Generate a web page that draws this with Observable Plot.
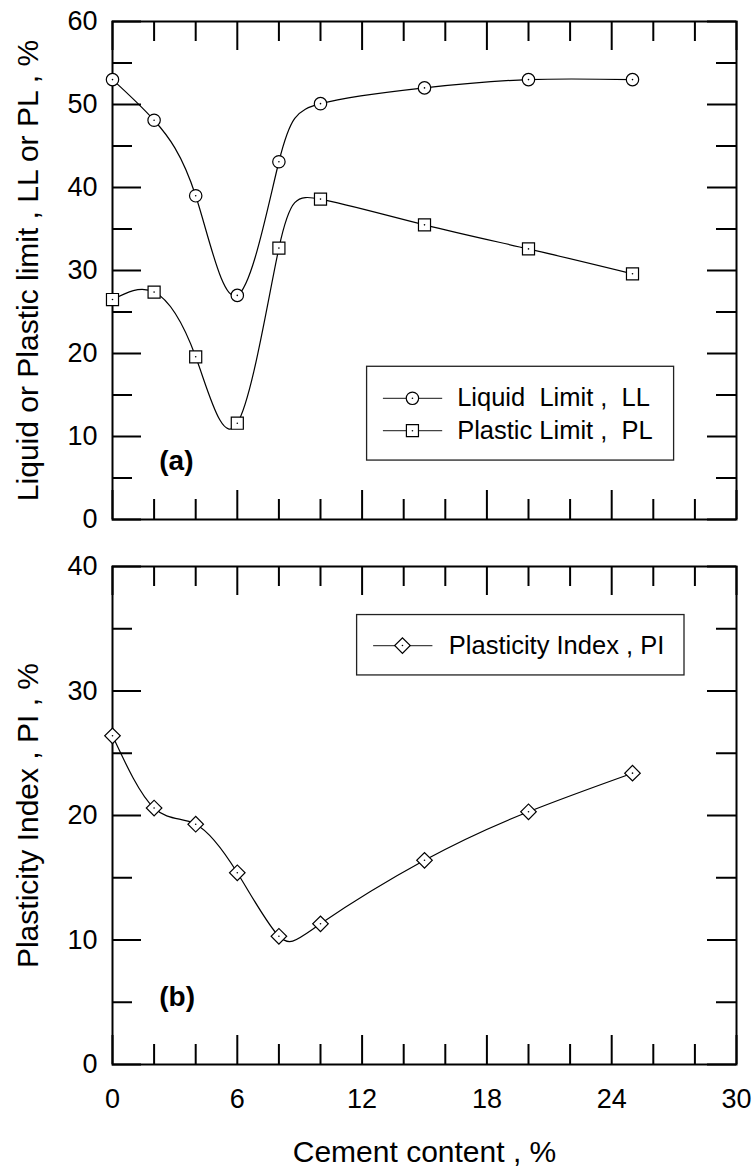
<!DOCTYPE html>
<html><head><meta charset="utf-8">
<script src="https://cdn.jsdelivr.net/npm/d3@7"></script>
<script src="https://cdn.jsdelivr.net/npm/@observablehq/plot@0.6"></script>
<style>
body{margin:0;background:#fff}
#chart svg{display:block}
</style>
</head><body><div id="chart"></div>
<script>
// ---- data ----
const cement = [0, 2, 4, 6, 8, 10, 15, 20, 25];
const liquidLimit = [53.0, 48.1, 39.0, 27.0, 43.1, 50.1, 52.0, 53.0, 53.0];
const plasticLimit = [26.5, 27.4, 19.6, 11.6, 32.7, 38.6, 35.5, 32.6, 29.6];
const plasticityIndex = [26.4, 20.6, 19.3, 15.4, 10.3, 11.3, 16.4, 20.3, 23.4];
const xTickLabels = [0, 6, 12, 18, 24, 30];
const yTickLabelsTop = [0, 10, 20, 30, 40, 50, 60];
const yTickLabelsBottom = [0, 10, 20, 30, 40];
const seriesNames = ["Liquid\u00a0 Limit ,\u00a0 LL", "Plastic Limit ,\u00a0 PL", "Plasticity Index , PI"];
const yTitles = ["Liquid or Plastic limit , LL or PL , %", "Plasticity Index , PI , %"];
const xTitle = "Cement content , %";
const panelTags = ["(a)", "(b)"];

// ---- layout ----
const W = 755, mL = 112, mR = 19;
const frameW = W - mL - mR, frameH = 498;
const font = "'Liberation Sans', Arial, Helvetica, sans-serif";
const tickFont = 27, titleFont = 30, legendFont = 25.5, tagFont = 28;

const ll = cement.map((x, i) => ({x, y: liquidLimit[i]}));
const pl = cement.map((x, i) => ({x, y: plasticLimit[i]}));
const pi = cement.map((x, i) => ({x, y: plasticityIndex[i]}));

function tickMarks(xStep, xMajor, yStep, yMajor, yMax) {
  const xs = d3.range(0, 30 + 1e-9, xStep);
  const ys = d3.range(0, yMax + 1e-9, yStep);
  const isMajX = v => Math.abs(v % xMajor) < 1e-9;
  const isMajY = v => Math.abs(v % yMajor) < 1e-9;
  const len = v => v ? 29 : 20;
  const o = {stroke: "black", strokeWidth: 2};
  const marks = [];
  for (const maj of [false, true]) {
    const xv = xs.filter(v => isMajX(v) === maj);
    const yv = ys.filter(v => isMajY(v) === maj);
    marks.push(
      Plot.ruleX(xv, {...o, insetTop: frameH - len(maj)}),
      Plot.ruleX(xv, {...o, insetBottom: frameH - len(maj)}),
      Plot.ruleY(yv, {...o, insetRight: frameW - len(maj)}),
      Plot.ruleY(yv, {...o, insetLeft: frameW - len(maj)})
    );
  }
  return marks;
}

function lineMark(data) {
  return Plot.line(data, {x: "x", y: "y", curve: "natural", stroke: "black", strokeWidth: 1.2});
}
function dotMarks(data, symbol, r, rotate) {
  return [
    Plot.dot(data, {x: "x", y: "y", symbol, r, rotate, fill: "white", stroke: "black", strokeWidth: 1.2}),
    Plot.dot(data, {x: "x", y: "y", r: 0.8, fill: "black"})
  ];
}

function legendMarks(box, rows) {
  const marks = [
    Plot.rect([box], {x1: "x1", x2: "x2", y1: "y1", y2: "y2", fill: "white", stroke: "#222", strokeWidth: 1.3})
  ];
  for (const row of rows) {
    marks.push(
      Plot.link([row], {x1: "lx1", x2: "lx2", y1: "y", y2: "y", stroke: "#444", strokeWidth: 1.2}),
      Plot.dot([row], {x: "mx", y: "y", symbol: row.symbol, r: row.r, rotate: row.rotate, fill: "white", stroke: "black", strokeWidth: 1.2}),
      Plot.dot([row], {x: "mx", y: "y", r: 0.8, fill: "black"}),
      Plot.text([row], {x: "tx", y: "y", text: "label", textAnchor: "start", fontSize: legendFont, fill: "black"})
    );
  }
  return marks;
}

function yTitle(text) {
  return Plot.text([text], {frameAnchor: "left", textAnchor: "middle", lineAnchor: "middle", dx: -84, rotate: -90, fontSize: titleFont, fill: "black"});
}

// top panel
const topPlot = Plot.plot({
  width: W, height: 540,
  marginLeft: mL, marginRight: mR, marginTop: 21, marginBottom: 21,
  style: {fontFamily: font, background: "white", color: "black"},
  x: {domain: [0, 30], axis: null},
  y: {domain: [0, 60], axis: null},
  marks: [
    lineMark(ll),
    lineMark(pl),
    Plot.frame({stroke: "black", strokeWidth: 2}),
    ...tickMarks(2, 6, 5, 10, 60),
    Plot.axisY(yTickLabelsTop, {tickSize: 0, tickPadding: 15, fontSize: tickFont, anchor: "left"}),
    yTitle(yTitles[0]),
    Plot.text([panelTags[0]], {x: [2.25], y: [7], textAnchor: "start", fontSize: tagFont, fontWeight: "bold", fill: "black"}),
    ...legendMarks({x1: 12.24, x2: 27.0, y1: 18.4, y2: 7.1}, [
      {lx1: 13.0, lx2: 15.85, mx: 14.42, tx: 16.57, y: 14.6, label: seriesNames[0], symbol: "circle", r: 6.2, rotate: 0},
      {lx1: 13.0, lx2: 15.85, mx: 14.42, tx: 16.57, y: 10.7, label: seriesNames[1], symbol: "square", r: 6.8, rotate: 0}
    ]),
    ...dotMarks(ll, "circle", 6.2, 0),
    ...dotMarks(pl, "square", 6.8, 0)
  ]
});

// bottom panel
const bottomPlot = Plot.plot({
  width: W, height: 629,
  marginLeft: mL, marginRight: mR, marginTop: 26, marginBottom: 105,
  style: {fontFamily: font, background: "white", color: "black"},
  x: {domain: [0, 30], axis: null},
  y: {domain: [0, 40], axis: null},
  marks: [
    lineMark(pi),
    Plot.frame({stroke: "black", strokeWidth: 2}),
    ...tickMarks(2, 6, 5, 10, 40),
    Plot.axisY(yTickLabelsBottom, {tickSize: 0, tickPadding: 15, fontSize: tickFont, anchor: "left"}),
    Plot.axisX(xTickLabels, {tickSize: 0, tickPadding: 24, fontSize: tickFont, anchor: "bottom"}),
    yTitle(yTitles[1]),
    Plot.text([xTitle], {frameAnchor: "bottom", textAnchor: "middle", lineAnchor: "middle", dy: 88, fontSize: titleFont, fill: "black"}),
    Plot.text([panelTags[1]], {x: [2.25], y: [5.4], textAnchor: "start", fontSize: tagFont, fontWeight: "bold", fill: "black"}),
    ...legendMarks({x1: 11.76, x2: 27.5, y1: 36.1, y2: 31.25}, [
      {lx1: 12.53, lx2: 15.38, mx: 13.94, tx: 16.17, y: 33.65, label: seriesNames[2], symbol: "square", r: 6.2, rotate: 45}
    ]),
    ...dotMarks(pi, "square", 6.2, 45)
  ]
});

document.getElementById("chart").append(topPlot, bottomPlot);
</script>
</body></html>
